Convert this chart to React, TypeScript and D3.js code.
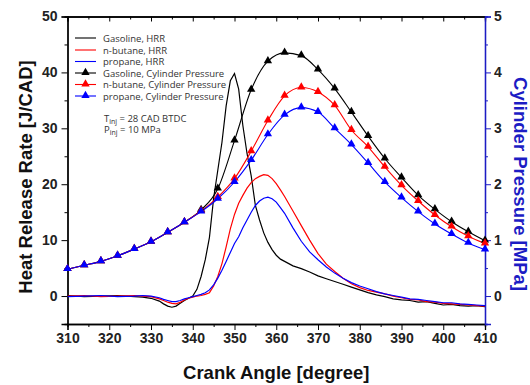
import React, { useEffect, useRef } from 'react';
import * as d3 from 'd3';

// heat release rate traces (J/CAD) vs crank angle
const hrrAngles = [310, 314, 318, 322, 326, 328, 330, 332, 333, 334, 335, 336, 337, 338, 339, 340, 341, 342, 343, 344, 345, 346, 347, 348, 349, 350, 351, 352, 353, 354, 355, 356, 357, 358, 359, 360, 361, 362, 364, 366, 368, 370, 372, 374, 376, 378, 380, 382, 384, 386, 388, 390, 392, 394, 396, 398, 400, 402, 404, 406, 408, 410];
const gasolineHrr = [0.1, -0.1, 0.0, 0.1, -0.1, -0.2, -0.4, -0.9, -1.4, -1.8, -2.0, -1.8, -1.3, -0.8, -0.4, 0.0, 1.2, 3.5, 6.5, 10.5, 17.5, 22.5, 27.5, 34.0, 38.5, 39.8, 37.0, 30.5, 25.5, 21.5, 16.2, 13.6, 11.3, 9.6, 8.3, 7.3, 6.6, 6.2, 5.4, 4.9, 4.3, 3.6, 3.1, 2.6, 2.1, 1.6, 1.1, 0.6, 0.2, -0.1, -0.5, -0.7, -0.8, -1.1, -1.0, -1.3, -1.6, -1.5, -1.7, -1.8, -1.7, -1.9];
const butaneHrr = [0.0, 0.1, -0.1, 0.0, 0.1, 0.0, -0.1, -0.5, -0.8, -1.1, -1.3, -1.4, -1.1, -0.7, -0.4, -0.2, 0.0, 0.1, 0.3, 0.6, 1.8, 3.5, 5.8, 8.8, 12.0, 14.6, 16.6, 18.0, 19.3, 20.3, 21.0, 21.4, 21.7, 21.6, 21.0, 20.1, 19.0, 17.8, 15.2, 12.6, 10.0, 7.6, 5.7, 4.4, 3.2, 2.2, 1.5, 1.0, 0.7, 0.4, 0.0, -0.3, -0.6, -0.7, -1.0, -1.1, -1.3, -1.4, -1.5, -1.6, -1.7, -1.8];
const propaneHrr = [-0.1, 0.0, 0.1, -0.1, 0.0, 0.1, 0.0, -0.3, -0.6, -0.8, -1.0, -1.0, -0.8, -0.5, -0.3, -0.1, 0.1, 0.3, 0.6, 1.1, 2.0, 3.2, 4.6, 6.2, 7.8, 9.4, 10.6, 12.2, 13.6, 15.0, 16.2, 17.0, 17.5, 17.7, 17.4, 16.8, 15.8, 14.8, 12.2, 9.8, 7.9, 6.5, 5.2, 4.1, 3.2, 2.4, 1.8, 1.3, 0.8, 0.4, 0.1, -0.2, -0.5, -0.6, -0.8, -1.0, -1.2, -1.2, -1.4, -1.5, -1.6, -1.7];

// cylinder pressure (MPa), one marker every 4 CAD
const pAngles = [310, 314, 318, 322, 326, 330, 334, 338, 342, 346, 350, 354, 358, 362, 366, 370, 374, 378, 382, 386, 390, 394, 398, 402, 406, 410];
const gasolineP = [0.48, 0.55, 0.62, 0.72, 0.84, 0.97, 1.14, 1.32, 1.54, 1.92, 2.78, 3.69, 4.20, 4.35, 4.30, 4.05, 3.71, 3.29, 2.86, 2.46, 2.12, 1.80, 1.55, 1.33, 1.15, 0.99];
const butaneP = [0.48, 0.55, 0.62, 0.72, 0.84, 0.97, 1.14, 1.32, 1.52, 1.77, 2.10, 2.59, 3.14, 3.58, 3.73, 3.65, 3.41, 2.97, 2.67, 2.31, 1.98, 1.70, 1.45, 1.24, 1.07, 0.94];
const propaneP = [0.48, 0.55, 0.62, 0.72, 0.84, 0.97, 1.14, 1.32, 1.51, 1.74, 2.04, 2.43, 2.89, 3.24, 3.37, 3.29, 3.00, 2.71, 2.38, 2.04, 1.76, 1.51, 1.29, 1.11, 0.95, 0.83];

const xTicks = [310, 320, 330, 340, 350, 360, 370, 380, 390, 400, 410];
const leftTicks = [0, 10, 20, 30, 40, 50];
const rightTicks = [0, 1, 2, 3, 4, 5];

const legendLabels = [
    'Gasoline, HRR',
    'n-butane, HRR',
    'propane, HRR',
    'Gasoline, Cylinder Pressure',
    'n-butane, Cylinder Pressure',
    'propane, Cylinder Pressure',
];

const App = () => {
    const svgRef = useRef(null);

    useEffect(() => {
        const width = 530;
        const height = 385;
        const left = 67.5, right = 485, top = 16.5, bottom = 324;
        const blue = '#1c1cc4';
        const font = '"Liberation Sans", Arial, sans-serif';
        const colors = ['#000000', '#ff0000', '#0000ff'];

        const x = d3.scaleLinear().domain([310, 410]).range([left, right]);
        const yL = d3.scaleLinear().domain([-5, 50]).range([bottom, top]);
        const yR = d3.scaleLinear().domain([-0.5, 5]).range([bottom, top]);

        const svg = d3.select(svgRef.current);
        svg.selectAll('*').remove();
        svg.attr('width', width).attr('height', height);

        svg.append('defs').append('clipPath').attr('id', 'plot-clip')
            .append('rect')
            .attr('x', left).attr('y', top)
            .attr('width', right - left).attr('height', bottom - top);

        const tri = d3.symbol().type(d3.symbolTriangle).size(30);

        // axes
        const bottomAxis = svg.append('g')
            .attr('transform', `translate(0,${bottom})`)
            .call(d3.axisBottom(x).tickValues(xTicks).tickSize(6).tickPadding(3).tickFormat(d3.format('d')));
        svg.append('g')
            .attr('transform', `translate(0,${bottom})`)
            .call(d3.axisBottom(x).tickValues(d3.range(315, 410, 10)).tickSize(3).tickFormat(() => ''));

        svg.append('g')
            .attr('transform', `translate(0,${top})`)
            .call(d3.axisTop(x).tickValues(xTicks).tickSize(-5).tickFormat(() => ''));
        svg.append('g')
            .attr('transform', `translate(0,${top})`)
            .call(d3.axisTop(x).tickValues(d3.range(315, 410, 10)).tickSize(-3).tickFormat(() => ''));

        const leftAxis = svg.append('g')
            .attr('transform', `translate(${left},0)`)
            .call(d3.axisLeft(yL).tickValues(leftTicks).tickSize(6).tickPadding(4).tickFormat(d3.format('d')));
        svg.append('g')
            .attr('transform', `translate(${left},0)`)
            .call(d3.axisLeft(yL).tickValues([-5, 5, 15, 25, 35, 45]).tickSize(3).tickFormat(() => ''));

        const rightAxis = svg.append('g')
            .attr('transform', `translate(${right},0)`)
            .call(d3.axisRight(yR).tickValues(rightTicks).tickSize(6).tickPadding(3).tickFormat(d3.format('d')));
        const rightMinor = svg.append('g')
            .attr('transform', `translate(${right},0)`)
            .call(d3.axisRight(yR).tickValues([-0.5, 0.5, 1.5, 2.5, 3.5, 4.5]).tickSize(3).tickFormat(() => ''));

        svg.selectAll('.domain').attr('stroke', '#000').attr('stroke-width', 1.3);
        svg.selectAll('.tick line').attr('stroke', '#000');
        rightAxis.selectAll('.domain, .tick line').attr('stroke', blue);
        rightMinor.selectAll('.domain, .tick line').attr('stroke', blue);

        [bottomAxis, leftAxis, rightAxis].forEach((g) => {
            g.selectAll('text')
                .attr('font-family', font)
                .attr('font-weight', 'bold')
                .attr('font-size', 14)
                .attr('fill', '#222');
        });

        // axis titles
        svg.append('text')
            .attr('x', (left + right) / 2).attr('y', 379)
            .attr('text-anchor', 'middle')
            .attr('font-family', font).attr('font-weight', 'bold').attr('font-size', 18.5)
            .attr('fill', '#111')
            .text('Crank Angle [degree]');
        svg.append('text')
            .attr('transform', `translate(32,177) rotate(-90)`)
            .attr('text-anchor', 'middle')
            .attr('font-family', font).attr('font-weight', 'bold').attr('font-size', 18.5)
            .attr('fill', '#111')
            .text('Heat Release Rate [J/CAD]');
        svg.append('text')
            .attr('transform', `translate(514,184) rotate(90)`)
            .attr('text-anchor', 'middle')
            .attr('font-family', font).attr('font-weight', 'bold').attr('font-size', 18.5)
            .attr('fill', blue)
            .text('Cylinder Pressure [MPa]');

        const plot = svg.append('g').attr('clip-path', 'url(#plot-clip)');

        // HRR lines
        const hrrLine = d3.line()
            .x((d) => x(d[0]))
            .y((d) => yL(d[1]));
        [gasolineHrr, butaneHrr, propaneHrr].forEach((vals, i) => {
            plot.append('path')
                .datum(hrrAngles.map((a, j) => [a, vals[j]]))
                .attr('fill', 'none')
                .attr('stroke', colors[i])
                .attr('stroke-width', 1.2)
                .attr('d', hrrLine);
        });

        // pressure lines with markers
        const pLine = d3.line()
            .x((d) => x(d[0]))
            .y((d) => yR(d[1]))
            .curve(d3.curveMonotoneX);
        [gasolineP, butaneP, propaneP].forEach((vals, i) => {
            const pts = pAngles.map((a, j) => [a, vals[j]]);
            plot.append('path')
                .datum(pts)
                .attr('fill', 'none')
                .attr('stroke', colors[i])
                .attr('stroke-width', 1.1)
                .attr('d', pLine);
            svg.append('g')
                .selectAll('path')
                .data(pts)
                .enter()
                .append('path')
                .attr('d', tri)
                .attr('transform', (d) => `translate(${x(d[0])},${yR(d[1]) - 0.5})`)
                .attr('fill', colors[i]);
        });

        // legend
        const legend = svg.append('g').attr('font-family', '"Open Sans", "Noto Sans", sans-serif').attr('font-size', 9.5);
        const legendY = [38, 50, 61.5, 73, 84.5, 96];
        legendLabels.forEach((label, i) => {
            const c = colors[i % 3];
            const yy = legendY[i];
            legend.append('line')
                .attr('x1', 75).attr('x2', 96)
                .attr('y1', yy).attr('y2', yy)
                .attr('stroke', c).attr('stroke-width', 1.1);
            if (i >= 3) {
                legend.append('path')
                    .attr('d', tri)
                    .attr('transform', `translate(85.5,${yy - 0.5})`)
                    .attr('fill', c);
            }
            legend.append('text')
                .attr('x', 103).attr('y', yy + 3.5)
                .attr('fill', '#333')
                .text(label);
        });

        const cond = legend.append('g').attr('fill', '#333');
        const t1 = cond.append('text').attr('x', 104).attr('y', 121.5);
        t1.append('tspan').text('T');
        t1.append('tspan').attr('font-size', 7).attr('dy', 2).text('inj');
        t1.append('tspan').attr('dy', -2).text(' = 28 CAD BTDC');
        const t2 = cond.append('text').attr('x', 104).attr('y', 133);
        t2.append('tspan').text('P');
        t2.append('tspan').attr('font-size', 7).attr('dy', 2).text('inj');
        t2.append('tspan').attr('dy', -2).text(' = 10 MPa');
    }, []);

    return (
        <svg ref={svgRef} style={{ position: 'absolute', left: 0, top: 0, background: '#fff' }}></svg>
    );
};

export default App;
